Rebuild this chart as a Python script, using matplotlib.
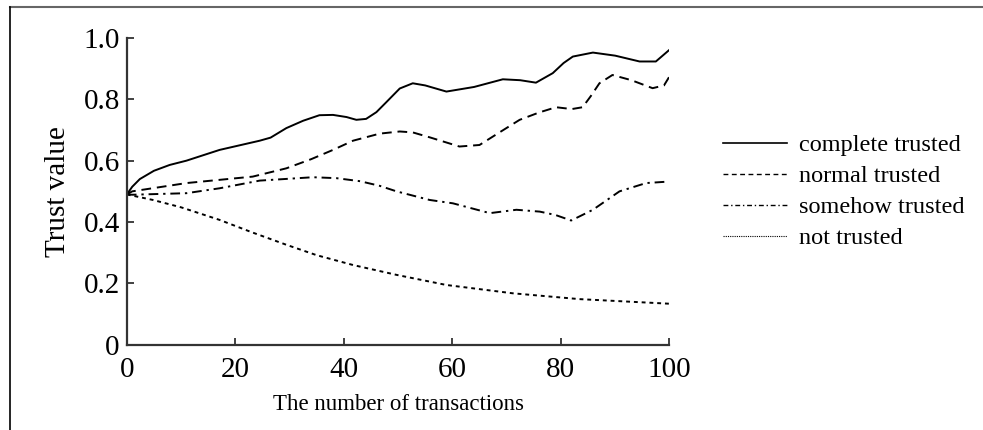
import matplotlib
matplotlib.use("Agg")
import matplotlib.pyplot as plt
from matplotlib.lines import Line2D

plt.rcParams['font.family'] = ['Liberation Serif', 'DejaVu Serif']

# values
complete_x = [0, 1, 2.4, 5, 7.9, 11, 17.1, 24.5, 26.5, 29.4, 32.5, 35.5, 38, 40.5, 42.3, 44.1, 46,
              47.8, 50.3, 52.7, 55, 58.9, 64, 69.3, 72.5, 75.4, 78.5, 80.5, 82.2, 85.9, 90,
              94.5, 97.5, 100]
complete_y = [0.49, 0.515, 0.54, 0.567, 0.586, 0.60, 0.635, 0.665, 0.675, 0.706, 0.73, 0.748, 0.749,
              0.742, 0.733, 0.736, 0.758, 0.79, 0.835, 0.852, 0.845, 0.825, 0.84, 0.865, 0.862,
              0.854, 0.885, 0.918, 0.939, 0.952, 0.942, 0.923, 0.923, 0.961]

normal_x = [0, 1, 11, 23.2, 29.4, 34, 38, 41.7, 46.6, 50.3, 52.7, 56, 61.3, 65, 68.5,
            72.4, 76, 79.1, 82, 84, 85.5, 87.1, 89.5, 93, 96.9, 99, 100]
normal_y = [0.49, 0.5, 0.527, 0.548, 0.575, 0.605, 0.635, 0.665, 0.688, 0.695, 0.692, 0.675, 0.646,
            0.651, 0.69, 0.733, 0.757, 0.774, 0.768, 0.774, 0.81, 0.852, 0.879, 0.862, 0.836,
            0.845, 0.874]

somehow_x = [0, 1, 11, 17.1, 24.5, 34.3, 38.6, 43, 46.6, 49.7, 55.8, 60.1, 66.9, 71.8,
             76.1, 79, 81.9, 85.9, 90.8, 95.7, 100]
somehow_y = [0.49, 0.489, 0.494, 0.51, 0.535, 0.546, 0.543, 0.533, 0.518, 0.50, 0.472, 0.461, 0.429,
             0.44, 0.434, 0.423, 0.405, 0.44, 0.50, 0.527, 0.532]

not_x = [0, 4.8, 10, 17.1, 23, 29.4, 35, 41.7, 49.7, 58.9, 71.1, 83.4, 100]
not_y = [0.49, 0.472, 0.448, 0.407, 0.367, 0.326, 0.292, 0.26, 0.228, 0.195, 0.168, 0.149, 0.134]

labels = ['complete trusted', 'normal trusted', 'somehow trusted', 'not trusted']
x_ticks = [0, 20, 40, 60, 80, 100]
y_ticks = [0, 0.2, 0.4, 0.6, 0.8, 1.0]
y_tick_labels = ['0', '0.2', '0.4', '0.6', '0.8', '1.0']

fig = plt.figure(figsize=(9.83, 4.3), dpi=100)
ax = fig.add_axes([0.129, 0.198, 0.552, 0.714])

lw = 1.4
ax.plot(complete_x, complete_y, color='black', lw=lw, ls='-')
ax.plot(normal_x, normal_y, color='black', lw=lw, ls=(0, (5, 3)))
ax.plot(somehow_x, somehow_y, color='black', lw=lw, ls=(0, (5, 2.5, 1.2, 2.5)))
ax.plot(not_x, not_y, color='black', lw=lw, ls=(0, (2, 2)))

ax.set_xlim(0, 100)
ax.set_ylim(0, 1.0)
ax.set_xticks(x_ticks)
ax.set_yticks(y_ticks)
ax.set_yticklabels(y_tick_labels)
ax.tick_params(direction='in', length=5, width=1.3, labelsize=21, color='#333333')
ax.tick_params(axis='x', pad=9)
ax.tick_params(axis='y', pad=5)
for side in ['top', 'right']:
    ax.spines[side].set_visible(False)
for side in ['left', 'bottom']:
    ax.spines[side].set_linewidth(1.6)
    ax.spines[side].set_color('#333333')

ax.set_xlabel('The number of transactions', fontsize=16.5, labelpad=8)
ax.set_ylabel('Trust value', fontsize=21, labelpad=9)

# legend handles, styled like the picture's legend
handles = [
    Line2D([], [], color='black', lw=1.2, ls='-'),
    Line2D([], [], color='black', lw=1.0, ls=(0, (3.5, 2.5))),
    Line2D([], [], color='black', lw=1.0, ls=(0, (3.5, 2, 1, 2))),
    Line2D([], [], color='black', lw=0.8, ls=(0, (1, 1))),
]
fig.legend(handles, labels, loc='upper left', bbox_to_anchor=(0.735, 0.688),
           frameon=False, fontsize=17.5, handlelength=2.65, handletextpad=0.5,
           labelspacing=0.37, borderpad=0, borderaxespad=0)

# thin frame lines of the original figure
fig.add_artist(Line2D([10 / 983, 1], [1 - 7 / 430, 1 - 7 / 430], transform=fig.transFigure,
                      color='#666666', lw=1.5))
fig.add_artist(Line2D([10 / 983, 10 / 983], [0, 1 - 7 / 430], transform=fig.transFigure,
                      color='black', lw=1.2))

fig.savefig('out.png', dpi=100)
